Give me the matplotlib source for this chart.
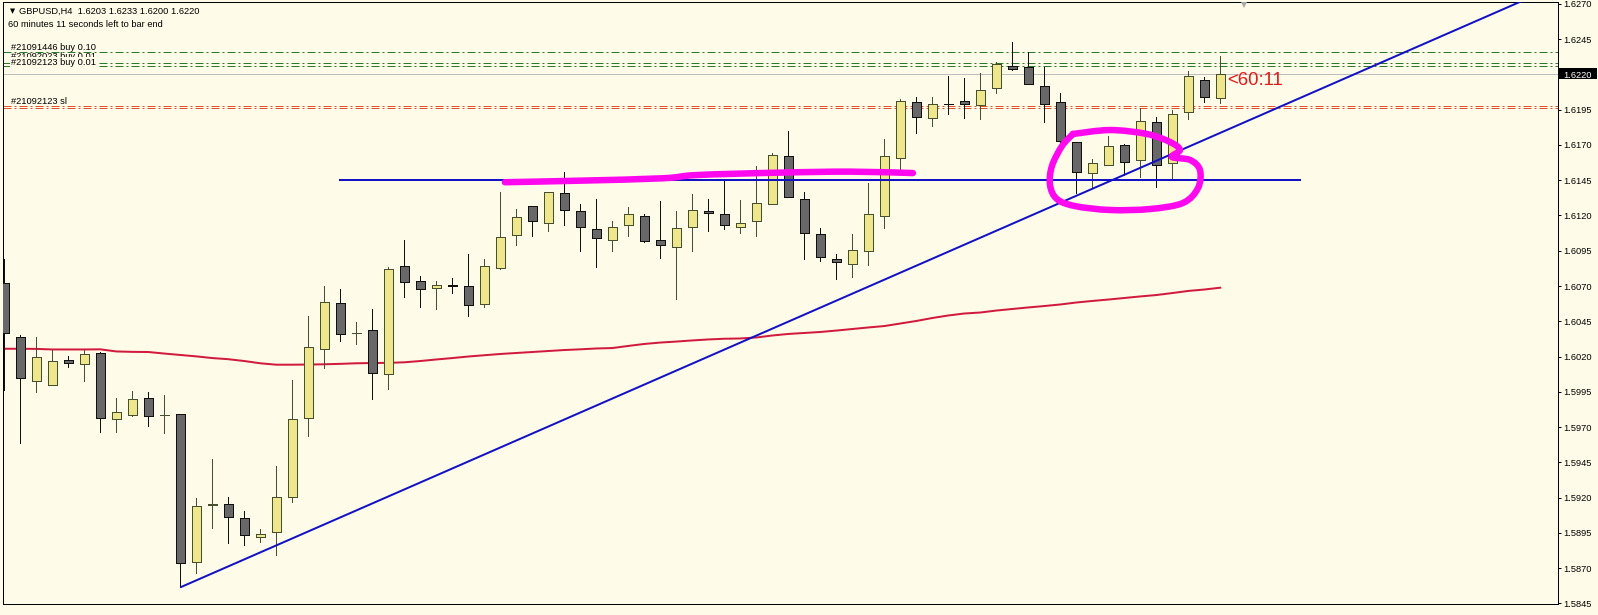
import numpy as np
import matplotlib
matplotlib.use("Agg")
import matplotlib.pyplot as plt
from matplotlib.path import Path
from matplotlib.patches import PathPatch, Rectangle
from matplotlib.lines import Line2D

# ---------------- data (GBPUSD H4) ----------------
opens = [1.60719, 1.60341, 1.60028, 1.60000, 1.60173, 1.60145, 1.60223, 1.59755, 1.59787, 1.59904,
         1.59783, 1.59790, 1.58741, 1.59150, 1.59156, 1.59053, 1.58918, 1.58953, 1.59206, 1.59762,
         1.60251, 1.60577, 1.60369, 1.60386, 1.60074, 1.60840, 1.60733, 1.60684, 1.60705, 1.60700,
         1.60575, 1.60826, 1.61060, 1.61265, 1.61145, 1.61357, 1.61230, 1.61106, 1.61024, 1.61131,
         1.61194, 1.61024, 1.60975, 1.61116, 1.61230, 1.61209, 1.61116, 1.61159, 1.61279, 1.61620,
         1.61315, 1.61067, 1.60894, 1.60854, 1.60946, 1.61194, 1.61606, 1.62003, 1.61889, 1.61992,
         1.62010, 1.61982, 1.62102, 1.62258, 1.62251, 1.62116, 1.62003, 1.61719, 1.61499, 1.61556,
         1.61698, 1.61592, 1.61861, 1.61570, 1.61932, 1.62159, 1.62030]
highs = [1.60892, 1.60353, 1.60336, 1.60246, 1.60204, 1.60246, 1.60230, 1.59904, 1.59955, 1.59946,
         1.59927, 1.59790, 1.59194, 1.59471, 1.59202, 1.59102, 1.58975, 1.59424, 1.60033, 1.60487,
         1.60700, 1.60677, 1.60447, 1.60535, 1.60833, 1.61026, 1.60771, 1.60735, 1.60759, 1.60927,
         1.60892, 1.61369, 1.61244, 1.61265, 1.61365, 1.61509, 1.61282, 1.61317, 1.61161, 1.61260,
         1.61209, 1.61303, 1.61232, 1.61353, 1.61315, 1.61452, 1.61310, 1.61551, 1.61641, 1.61799,
         1.61365, 1.61109, 1.60925, 1.61069, 1.61428, 1.61743, 1.62024, 1.62038, 1.62038, 1.62189,
         1.62175, 1.62209, 1.62287, 1.62428, 1.62357, 1.62251, 1.62067, 1.61719, 1.61601, 1.61762,
         1.61709, 1.61960, 1.61896, 1.61946, 1.62223, 1.62180, 1.62330]
lows = [1.59962, 1.59585, 1.59950, 1.60000, 1.60123, 1.60028, 1.59667, 1.59667, 1.59780, 1.59709,
        1.59660, 1.58563, 1.58667, 1.58982, 1.58880, 1.58865, 1.58887, 1.58792, 1.59170, 1.59638,
        1.60116, 1.60312, 1.60289, 1.59901, 1.59972, 1.60624, 1.60553, 1.60535, 1.60653, 1.60489,
        1.60553, 1.60819, 1.60991, 1.61057, 1.61092, 1.61135, 1.60950, 1.60837, 1.60950, 1.61057,
        1.61010, 1.60901, 1.60610, 1.60950, 1.61092, 1.61106, 1.61074, 1.61057, 1.61279, 1.61329,
        1.60895, 1.60874, 1.60748, 1.60766, 1.60851, 1.61109, 1.61528, 1.61787, 1.61837, 1.61918,
        1.61894, 1.61882, 1.62067, 1.62230, 1.62131, 1.61865, 1.61688, 1.61357, 1.61404, 1.61556,
        1.61489, 1.61471, 1.61404, 1.61457, 1.61882, 1.62003, 1.62000]
closes = [1.60365, 1.60045, 1.60194, 1.60166, 1.60152, 1.60216, 1.59762, 1.59804, 1.59897, 1.59776,
          1.59783, 1.58733, 1.59142, 1.59155, 1.59060, 1.58932, 1.58939, 1.59202, 1.59755, 1.60265,
          1.60584, 1.60357, 1.60369, 1.60081, 1.60821, 1.60726, 1.60677, 1.60705, 1.60700, 1.60563,
          1.60840, 1.61045, 1.61187, 1.61159, 1.61365, 1.61237, 1.61116, 1.61038, 1.61116, 1.61209,
          1.61017, 1.60989, 1.61109, 1.61237, 1.61216, 1.61131, 1.61145, 1.61287, 1.61627, 1.61329,
          1.61074, 1.60904, 1.60868, 1.60953, 1.61209, 1.61620, 1.62010, 1.61896, 1.61989, 1.61989,
          1.61989, 1.62088, 1.62272, 1.62237, 1.62131, 1.61989, 1.61726, 1.61506, 1.61570, 1.61691,
          1.61577, 1.61868, 1.61556, 1.61918, 1.62187, 1.62038, 1.62200]
ma = [1.60255, 1.60255, 1.60254, 1.60250, 1.60250, 1.60250, 1.60251, 1.60236, 1.60233, 1.60232,
      1.60221, 1.60211, 1.60201, 1.60189, 1.60181, 1.60168, 1.60152, 1.60142, 1.60142, 1.60143,
      1.60145, 1.60148, 1.60152, 1.60154, 1.60155, 1.60159, 1.60168, 1.60179, 1.60189, 1.60200,
      1.60209, 1.60218, 1.60225, 1.60232, 1.60239, 1.60246, 1.60251, 1.60257, 1.60260, 1.60275,
      1.60289, 1.60299, 1.60306, 1.60314, 1.60321, 1.60326, 1.60328, 1.60335, 1.60349, 1.60360,
      1.60367, 1.60374, 1.60384, 1.60395, 1.60406, 1.60416, 1.60434, 1.60452, 1.60473, 1.60491,
      1.60505, 1.60512, 1.60526, 1.60537, 1.60548, 1.60558, 1.60569, 1.60583, 1.60594, 1.60604,
      1.60615, 1.60626, 1.60636, 1.60650, 1.60665, 1.60675, 1.60688]

yticks = [1.5845, 1.5870, 1.5895, 1.5920, 1.5945, 1.5970, 1.5995, 1.6020, 1.6045, 1.6070,
          1.6095, 1.6120, 1.6145, 1.6170, 1.6195, 1.6220, 1.6245, 1.6270]
bid_price = 1.6220

# drawn objects
trend_x = [11, 76]
trend_y = [1.58563, 1.61786]
hline_x = [20.94, 81.07]
hline_y = 1.61452
order_lines_green = [1.62360, 1.62283, 1.62257]
order_lines_red = [1.61980, 1.61959]

# hand-drawn magenta marks
stroke_x = [31.29, 35.98, 41.17, 43.29, 48.48, 52.86, 56.79]
stroke_y = [1.61436, 1.61447, 1.61464, 1.61487, 1.61504, 1.61511, 1.61501]
loop_x = [66.79, 69.11, 71.42, 72.86, 73.48, 72.98, 74.11, 74.73, 74.61, 73.67, 71.61,
          69.11, 66.92, 65.79, 65.36, 65.48, 66.11, 66.79]
loop_y = [1.61778, 1.61806, 1.61778, 1.61721, 1.61665, 1.61615, 1.61594, 1.61523, 1.61395,
          1.61289, 1.61246, 1.61239, 1.61267, 1.61317, 1.61416, 1.61551, 1.61693, 1.61778]

title_text = "GBPUSD,H4  1.6203 1.6233 1.6200 1.6220"
timer_text = "60 minutes 11 seconds left to bar end"
order_labels = ["#21091446 buy 0.10", "#21092023 buy 0.01", "#21092123 buy 0.01", "#21092123 sl"]
countdown = "<60:11"

# ---------------- style ----------------
W, H, DPI = 1598, 615, 100
PX = 72.0 / DPI
BG = "#FEFCE8"
BULL = "#F0E68C"
BEAR = "#686868"
BULL_EDGE = "#44502F"
BEAR_EDGE = "#101010"
BLUE = "#1212C4"
RED_MA = "#D21A3E"
GREEN = "#2A7A2A"
ORANGE = "#E0552C"
MAGENTA = "#FF08F0"

plt.rcParams["font.family"] = ["Liberation Sans", "DejaVu Sans"]
plt.rcParams["lines.scale_dashes"] = False

fig = plt.figure(figsize=(W / DPI, H / DPI), dpi=DPI, facecolor=BG)
L, R, T, B = 3.0, 1557.7, 2.0, 604.0
ax = fig.add_axes([L / W, (H - B) / H, (R - L) / W, (B - T) / H])
ax.set_facecolor(BG)
ax.set_xlim(-0.08, 97.09)
ax.set_ylim(1.58445, 1.62714)

def fy(y):
    return 1 - y / H

# bid line
ax.axhline(bid_price, color="#BEBEBE", lw=PX, zorder=1)

# order lines
dash = (0, (8 * PX, 3 * PX, 2 * PX, 3 * PX))
for p in order_lines_green:
    ax.axhline(p, color=GREEN, lw=PX, linestyle=dash, zorder=1)
for p in order_lines_red:
    ax.axhline(p, color=ORANGE, lw=PX, linestyle=dash, zorder=1)

# moving average
x = np.arange(len(opens))
ax.plot(np.r_[-0.5, x], np.r_[ma[0], ma], color=RED_MA, lw=2 * PX, zorder=2)

# candles
o = np.array(opens); c = np.array(closes); hi = np.array(highs); lo = np.array(lows)
bull = c >= o
wick_cols = [BULL_EDGE if b else BEAR_EDGE for b in bull]
ax.vlines(x, lo, hi, colors=wick_cols, lw=PX, zorder=3, antialiased=False)
fills = [BULL if b else BEAR for b in bull]
edges = [BULL_EDGE if b else BEAR_EDGE for b in bull]
ax.bar(x, np.abs(c - o), bottom=np.minimum(o, c), width=0.58, color=fills,
       edgecolor=edges, linewidth=PX, zorder=4, antialiased=False)

# trend line (ray) and horizontal line
slope = (trend_y[1] - trend_y[0]) / (trend_x[1] - trend_x[0])
x_end = 100
ax.plot([trend_x[0], x_end], [trend_y[0], trend_y[0] + slope * (x_end - trend_x[0])],
        color=BLUE, lw=2 * PX, zorder=5, solid_capstyle="butt")
ax.plot(hline_x, [hline_y, hline_y], color=BLUE, lw=2 * PX, zorder=5, solid_capstyle="butt")

# magenta freehand marks (smooth Bezier through the read points)
def smooth(xs, ys):
    pts = np.column_stack([xs, ys])
    n = len(pts)
    verts = [pts[0]]
    codes = [Path.MOVETO]
    for k in range(n - 1):
        p0 = pts[k - 1] if k > 0 else pts[k]
        p1 = pts[k]
        p2 = pts[k + 1]
        p3 = pts[k + 2] if k + 2 < n else pts[k + 1]
        verts += [p1 + (p2 - p0) / 6.0, p2 - (p3 - p1) / 6.0, p2]
        codes += [Path.CURVE4] * 3
    return Path(verts, codes)

for xs, ys in [(stroke_x, stroke_y), (loop_x, loop_y)]:
    ax.add_patch(PathPatch(smooth(xs, ys), facecolor="none", edgecolor=MAGENTA,
                           lw=6.5 * PX, capstyle="round", joinstyle="round", zorder=6))

# countdown text
ax.text(76.46, 1.62126, countdown, color="#E21A1A", fontsize=13.3, va="baseline",
        ha="left", zorder=7)

# axes styling
for s in ax.spines.values():
    s.set_color("black")
    s.set_linewidth(PX)
ax.set_xticks([])
ax.yaxis.tick_right()
ax.set_yticks(yticks)
ax.set_yticklabels(["%.4f" % v for v in yticks])
ax.tick_params(axis="y", direction="out", length=3 * PX, width=PX, pad=2.5 * PX,
               labelsize=6.7, colors="black")
for lab, v in zip(ax.get_yticklabels(), yticks):
    if abs(v - bid_price) < 1e-9:
        lab.set_color("white")
        lab.set_zorder(10)

# black bid box on price scale
fig.patches.append(Rectangle((1558 / W, fy(78.8)), 39 / W, 10.8 / H, transform=fig.transFigure,
                             facecolor="black", edgecolor="none", zorder=-1))

# top-left info
fig.text(10 / W, fy(13.6), "\u25BC", family=["DejaVu Sans"], fontsize=4.8, va="baseline")
fig.text(19 / W, fy(14.3), title_text, fontsize=6.7, va="baseline")
fig.text(7.5 / W, fy(26.7), timer_text, fontsize=6.7, va="baseline")

# order labels
fig.text(11 / W, fy(50), order_labels[0], fontsize=6.7, va="baseline", zorder=3)
fig.text(11 / W, fy(59), order_labels[1], fontsize=6.7, va="baseline", zorder=3)
fig.text(11 / W, fy(65), order_labels[2], fontsize=6.7, va="baseline", zorder=4,
         bbox=dict(facecolor=BG, edgecolor="none", boxstyle="square,pad=0.15"))
fig.text(11 / W, fy(104), order_labels[3], fontsize=6.7, va="baseline", zorder=3)

# chart shift marker
fig.add_artist(Line2D([1243.5 / W], [fy(4.5)], marker="v", markersize=5, color="#A8A8A8",
                      markeredgewidth=0, transform=fig.transFigure))

fig.savefig("out.png", dpi=DPI, facecolor=BG)
